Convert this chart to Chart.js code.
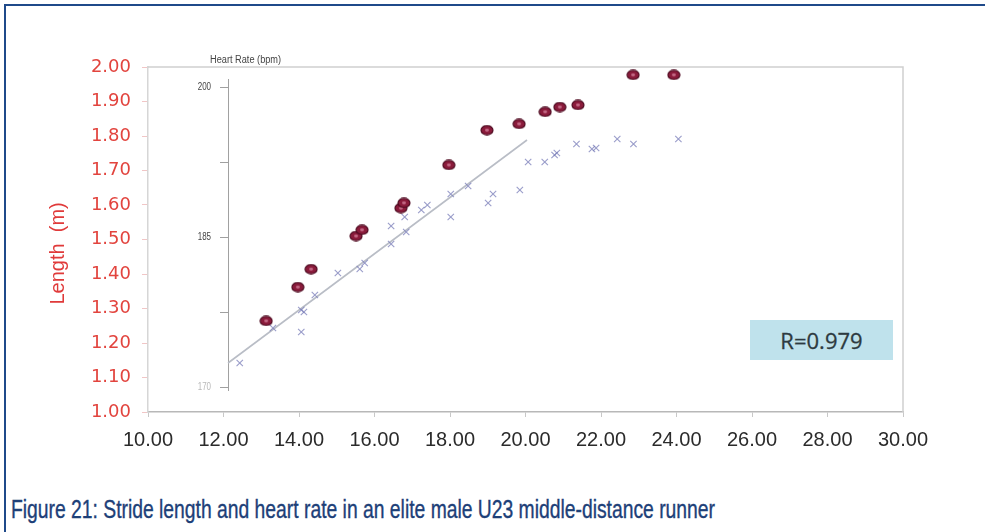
<!DOCTYPE html>
<html>
<head>
<meta charset="utf-8">
<script src="https://cdn.jsdelivr.net/npm/chart.js@4/dist/chart.umd.min.js"></script>
<style>
  html, body { margin: 0; padding: 0; background: #fff; width: 985px; height: 532px; overflow: hidden; }
  #frameTop { position: absolute; left: 4px; top: 4px; width: 981px; height: 2px; background: #1f4a8a; }
  #frameLeft { position: absolute; left: 4px; top: 4px; width: 2px; height: 528px; background: #1f4a8a; }
  #wrap { position: absolute; left: 0; top: 0; width: 985px; height: 475px; }
  #rbox { position: absolute; left: 750px; top: 320px; width: 143px; height: 40px; background: #bfe2ec;
          font: 22px "Open Sans", sans-serif; color: #2d3a40; display: flex; align-items: center; justify-content: center;
          -webkit-text-stroke: 0.3px #2d3a40; }
  #caption { position: absolute; left: 11px; top: 497px; font: 25px/25px "Liberation Sans", Arial, sans-serif;
             color: #1d4078; white-space: nowrap; transform-origin: left top; -webkit-text-stroke: 0.35px #1d4078; }
</style>
</head>
<body>
<div id="frameTop"></div>
<div id="frameLeft"></div>
<div id="wrap"><canvas id="c" width="985" height="475"></canvas></div>
<div id="rbox">R=0.979</div>
<div id="caption">Figure 21: Stride length and heart rate in an elite male U23 middle-distance runner</div>
<script>
// ---- data ----
const speedTicks = [10, 12, 14, 16, 18, 20, 22, 24, 26, 28, 30];
const lengthTicks = [1.0, 1.1, 1.2, 1.3, 1.4, 1.5, 1.6, 1.7, 1.8, 1.9, 2.0];

// stride length (m) vs speed
const strideSpeed  = [13.13, 13.97, 14.32, 15.51, 15.67, 16.70, 16.78, 17.97, 18.98, 19.83, 20.52, 20.91, 21.39, 22.85, 23.93];
const strideLength = [1.264, 1.362, 1.414, 1.510, 1.528, 1.591, 1.606, 1.716, 1.817, 1.835, 1.870, 1.884, 1.890, 1.977, 1.977];

// heart rate (bpm) vs speed
const hrSpeed  = [12.43, 13.31, 14.06, 14.13, 14.06, 14.42, 15.03, 15.61, 15.74, 16.44, 16.44, 16.84, 16.80, 17.24, 17.40, 18.02, 18.02, 18.48, 19.01, 19.14, 19.85, 20.07, 20.51, 20.77, 20.83, 21.35, 21.76, 21.87, 22.43, 22.86, 24.05];
const hrValues = [172.4, 175.9, 177.7, 177.5, 175.5, 179.2, 181.4, 181.8, 182.4, 184.3, 186.1, 185.5, 187.0, 187.7, 188.2, 189.3, 187.0, 190.1, 188.4, 189.3, 189.7, 192.5, 192.5, 193.2, 193.4, 194.3, 193.8, 193.9, 194.8, 194.3, 194.8];

// regression line of heart rate
const hrFitSpeed = [12.12, 20.04];
const hrFitValue = [172.4, 194.7];

// heart-rate axis
const hrAxisAt = 12.12;
const hrTicks = [200, 192.5, 185, 177.5, 170];
const hrTickLabels = ['200', '', '185', '', '170'];
const hrAxisTitle = 'Heart Rate (bpm)';

// ---- marks ----
function makeDot() {
  const cv = document.createElement('canvas');
  cv.width = 14; cv.height = 11;
  const g = cv.getContext('2d');
  g.beginPath(); g.ellipse(7, 5.5, 6, 4.6, 0, 0, Math.PI * 2);
  g.fillStyle = '#8a1b3b'; g.fill();
  g.lineWidth = 1.2; g.strokeStyle = '#4f0b21'; g.stroke();
  g.beginPath(); g.ellipse(7, 5.5, 2, 1.4, 0, 0, Math.PI * 2);
  g.fillStyle = '#c46a86'; g.fill();
  return cv;
}

const hrAxisPlugin = {
  id: 'hrAxis',
  beforeDatasetsDraw(chart) {
    const { ctx, chartArea, scales } = chart;
    const xs = scales.x, hr = scales.hr;
    ctx.save();
    // plot frame (top + right)
    ctx.strokeStyle = '#d0d0d0'; ctx.lineWidth = 1.5;
    ctx.beginPath();
    ctx.moveTo(chartArea.left, chartArea.top);
    ctx.lineTo(chartArea.right, chartArea.top);
    ctx.lineTo(chartArea.right, chartArea.bottom);
    ctx.stroke();
    // heart-rate axis
    const x0 = xs.getPixelForValue(hrAxisAt);
    ctx.strokeStyle = '#a0a0a0'; ctx.lineWidth = 1;
    ctx.beginPath();
    ctx.moveTo(x0 + 0.5, hr.getPixelForValue(200.8));
    ctx.lineTo(x0 + 0.5, hr.getPixelForValue(169.6));
    ctx.stroke();
    ctx.font = '10px "Liberation Sans", Arial, sans-serif';
    ctx.textBaseline = 'middle';
    hrTicks.forEach((t, i) => {
      const y = Math.round(hr.getPixelForValue(t)) + 0.5;
      ctx.beginPath(); ctx.moveTo(x0 - 8, y); ctx.lineTo(x0, y); ctx.stroke();
      if (hrTickLabels[i]) {
        ctx.save();
        ctx.translate(x0 - 17, y);
        ctx.scale(0.8, 1);
        ctx.fillStyle = i === hrTicks.length - 1 ? '#b8b8b8' : '#444';
        ctx.textAlign = 'right';
        ctx.fillText(hrTickLabels[i], 0, 0);
        ctx.restore();
      }
    });
    ctx.save();
    ctx.translate(x0 - 18, hr.getPixelForValue(202.7));
    ctx.scale(0.92, 1);
    ctx.fillStyle = '#444';
    ctx.textAlign = 'left';
    ctx.fillText(hrAxisTitle, 0, 0);
    ctx.restore();
    ctx.restore();
  }
};

new Chart(document.getElementById('c'), {
  type: 'scatter',
  data: {
    datasets: [
      {
        type: 'line',
        data: hrFitSpeed.map((x, i) => ({ x, y: hrFitValue[i] })),
        yAxisID: 'hr',
        borderColor: '#b9bdc6',
        borderWidth: 1.6,
        pointRadius: 0,
        fill: false,
        order: 3
      },
      {
        data: hrSpeed.map((x, i) => ({ x, y: hrValues[i] })),
        yAxisID: 'hr',
        pointStyle: 'crossRot',
        pointRadius: 4.5,
        borderWidth: 1.1,
        borderColor: 'rgba(120,124,184,0.75)',
        backgroundColor: 'rgba(120,124,184,0.75)',
        order: 2
      },
      {
        data: strideSpeed.map((x, i) => ({ x, y: strideLength[i] })),
        yAxisID: 'y',
        pointStyle: makeDot(),
        pointRadius: 6,
        order: 1
      }
    ]
  },
  options: {
    responsive: false,
    animation: false,
    devicePixelRatio: 1,
    events: [],
    layout: { padding: { left: 42, top: 67, right: 82, bottom: 0 } },
    plugins: { legend: { display: false }, tooltip: { enabled: false } },
    scales: {
      x: {
        type: 'linear',
        min: speedTicks[0], max: speedTicks[speedTicks.length - 1],
        afterBuildTicks: (s) => { s.ticks = speedTicks.map(v => ({ value: v })); },
        afterFit: (s) => { s.height = 63; },
        grid: { drawOnChartArea: false, drawTicks: true, tickLength: 5, color: '#c8c8c8' },
        border: { color: '#b8b8b8', width: 1.5 },
        ticks: {
          padding: 11,
          color: '#2b2b2b',
          font: { family: '"Liberation Sans", Arial, sans-serif', size: 20 },
          maxRotation: 0,
          callback: (v) => Number(v).toFixed(2)
        }
      },
      y: {
        type: 'linear',
        position: 'left',
        min: lengthTicks[0], max: lengthTicks[lengthTicks.length - 1],
        afterBuildTicks: (s) => { s.ticks = lengthTicks.map(v => ({ value: v })); },
        afterFit: (s) => { s.width = 106; },
        grid: { drawOnChartArea: false, drawTicks: true, tickLength: 6, color: 'rgba(232,160,160,0.6)' },
        border: { color: '#d6d6d6', width: 1.5 },
        ticks: {
          padding: 11,
          color: '#e2443e',
          font: { family: '"DejaVu Sans", sans-serif', size: 18 },
          callback: (v) => Number(v).toFixed(2)
        },
        title: {
          display: true,
          text: 'Length  (m)     ',
          color: '#e03a3a',
          font: { family: '"Liberation Sans", Arial, sans-serif', size: 20 },
          padding: { top: 4, bottom: 4 }
        }
      },
      hr: {
        type: 'linear',
        display: false,
        min: 167.5, max: 202
      }
    }
  },
  plugins: [hrAxisPlugin]
});

// condense the caption to the reference width
const cap = document.getElementById('caption');
const w = cap.getBoundingClientRect().width;
cap.style.transform = 'scaleX(' + (704 / w) + ')';
</script>
</body>
</html>
